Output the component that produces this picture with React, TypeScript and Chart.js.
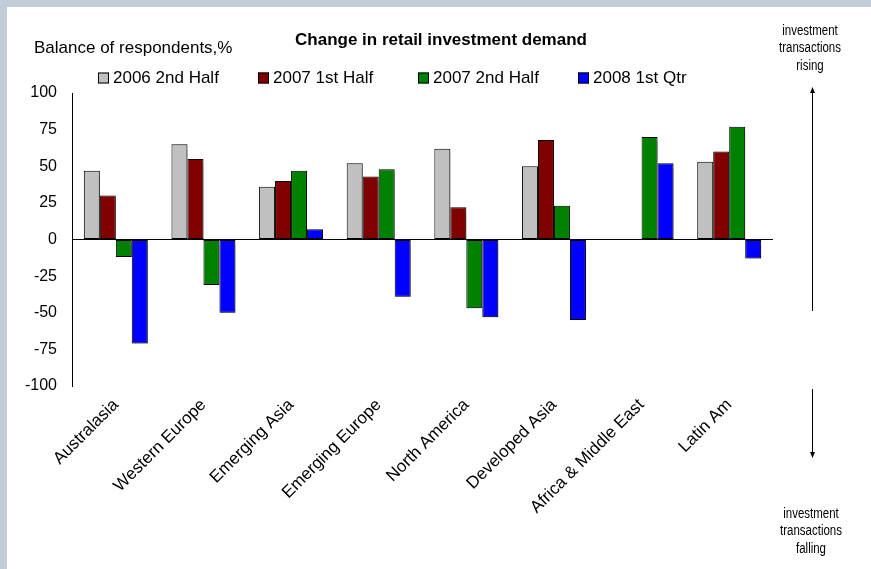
import React, { useEffect, useRef } from "react";
import { Chart, registerables } from "chart.js";

Chart.register(...registerables);

const categories = [
  "Australasia",
  "Western Europe",
  "Emerging Asia",
  "Emerging Europe",
  "North America",
  "Developed Asia",
  "Africa & Middle East",
  "Latin Am",
];
const seriesNames = ["2006 2nd Half", "2007 1st Half", "2007 2nd Half", "2008 1st Qtr"];
const seriesColors = ["#c0c0c0", "#800000", "#008000", "#0000ff"];
const half2006b = [47, 65, 36, 52, 62, 50, null, 53];
const half2007a = [30, 55, 40, 43, 22, 68, null, 60];
const half2007b = [-12, -31, 47, 48, -47, 23, 70, 77];
const qtr2008a = [-71, -50, 7, -39, -53, -55, 52, -13];
const yMin = -100;
const yMax = 100;
const yStep = 25;

const titleText = "Change in retail investment demand";
const yAxisTitle = "Balance of respondents,%";
const risingText = ["investment", "transactions", "rising"];
const fallingText = ["investment", "transactions", "falling"];

const FONT = "'Liberation Sans', Arial, sans-serif";

function arrow(ctx: CanvasRenderingContext2D, x: number, y1: number, y2: number) {
  ctx.beginPath();
  ctx.moveTo(x, y1);
  ctx.lineTo(x, y2);
  ctx.stroke();
  const dir = y2 > y1 ? 1 : -1;
  ctx.beginPath();
  ctx.moveTo(x, y2 + dir * 1);
  ctx.lineTo(x - 2.5, y2 - dir * 5);
  ctx.lineTo(x + 2.5, y2 - dir * 5);
  ctx.closePath();
  ctx.fill();
}

function narrowText(ctx: CanvasRenderingContext2D, t: string, cx: number, cy: number) {
  ctx.save();
  ctx.translate(cx, cy);
  ctx.scale(0.82, 1);
  ctx.fillText(t, 0, 0);
  ctx.restore();
}

const decorPlugin = {
  id: "decor",
  beforeDatasetsDraw(chart: any) {
    const ctx = chart.ctx;
    ctx.save();
    ctx.shadowColor = "rgba(0,0,0,0.3)";
    ctx.shadowOffsetX = 1.5;
    ctx.shadowOffsetY = 1;
    ctx.shadowBlur = 1;
  },
  afterDatasetsDraw(chart: any) {
    chart.ctx.restore();
  },
  afterDraw(chart: any) {
    const ctx: CanvasRenderingContext2D = chart.ctx;
    ctx.save();
    ctx.fillStyle = "#000";
    ctx.strokeStyle = "#000";
    ctx.lineWidth = 1;

    // title
    ctx.font = `bold 17px ${FONT}`;
    ctx.textAlign = "center";
    ctx.textBaseline = "middle";
    ctx.fillText(titleText, 441, 40);

    // y-axis title
    ctx.font = `17px ${FONT}`;
    ctx.textAlign = "left";
    ctx.fillText(yAxisTitle, 34, 48);

    // legend
    const legendX = [98, 258, 418, 578];
    const ly = 78;
    chart.data.datasets.forEach((ds: any, i: number) => {
      const x = legendX[i];
      ctx.fillStyle = ds.backgroundColor;
      ctx.fillRect(x, ly - 5.5, 11, 11);
      ctx.strokeStyle = "#000";
      ctx.strokeRect(x + 0.5, ly - 5.5 + 0.5, 10, 10);
      ctx.fillStyle = "#000";
      ctx.font = `17px ${FONT}`;
      ctx.textAlign = "left";
      ctx.fillText(ds.label, x + 15, ly);
    });

    // right-side annotations
    ctx.font = `14px ${FONT}`;
    ctx.textAlign = "center";
    risingText.forEach((t, i) => narrowText(ctx, t, 810, 31 + i * 17.5));
    fallingText.forEach((t, i) => narrowText(ctx, t, 811, 514 + i * 17.5));
    ctx.strokeStyle = "#000";
    ctx.fillStyle = "#000";
    arrow(ctx, 812.5, 311, 88);
    arrow(ctx, 812.5, 389, 457);
    ctx.restore();
  },
};

export default function App() {
  const ref = useRef<HTMLCanvasElement>(null);

  useEffect(() => {
    document.body.style.margin = "0";
    const values = [half2006b, half2007a, half2007b, qtr2008a];
    const chart = new Chart(ref.current!, {
      type: "bar",
      data: {
        labels: categories,
        datasets: seriesNames.map((name, i) => ({
          label: name,
          data: values[i],
          backgroundColor: seriesColors[i],
          borderColor: "#000",
          borderWidth: 1,
          borderSkipped: false,
        })),
      },
      options: {
        animation: false,
        responsive: false,
        maintainAspectRatio: false,
        devicePixelRatio: 1,
        layout: { padding: { left: 0, right: 98, top: 93, bottom: 20 } },
        datasets: {
          bar: { categoryPercentage: 0.73, barPercentage: 1.0 },
        },
        plugins: {
          legend: { display: false },
          title: { display: false },
          tooltip: { enabled: false },
        },
        scales: {
          x: {
            grid: { display: false, drawTicks: false },
            border: { display: false },
            ticks: {
              autoSkip: false,
              minRotation: 45,
              maxRotation: 45,
              padding: 9,
              color: "#000",
              font: { family: FONT, size: 17 },
            },
            afterFit: (scale: any) => {
              scale.height = 163;
            },
          },
          y: {
            min: yMin,
            max: yMax,
            ticks: {
              stepSize: yStep,
              padding: 15,
              color: "#000",
              font: { family: FONT, size: 16 },
            },
            grid: {
              drawTicks: false,
              color: (c: any) => (c.tick && c.tick.value === 0 ? "#000" : "rgba(0,0,0,0)"),
              lineWidth: 1,
            },
            border: { display: true, color: "#000", width: 1 },
            afterFit: (scale: any) => {
              scale.width = 72;
            },
          },
        },
      },
      plugins: [decorPlugin],
    });
    return () => chart.destroy();
  }, []);

  return (
    <div style={{ position: "relative", width: 871, height: 569, background: "#c0ccd8", overflow: "hidden" }}>
      <div style={{ position: "absolute", left: 7, top: 7, width: 864, height: 562, background: "#fff" }} />
      <canvas ref={ref} width={871} height={569} style={{ position: "absolute", left: 0, top: 0, width: 871, height: 569 }} />
    </div>
  );
}
